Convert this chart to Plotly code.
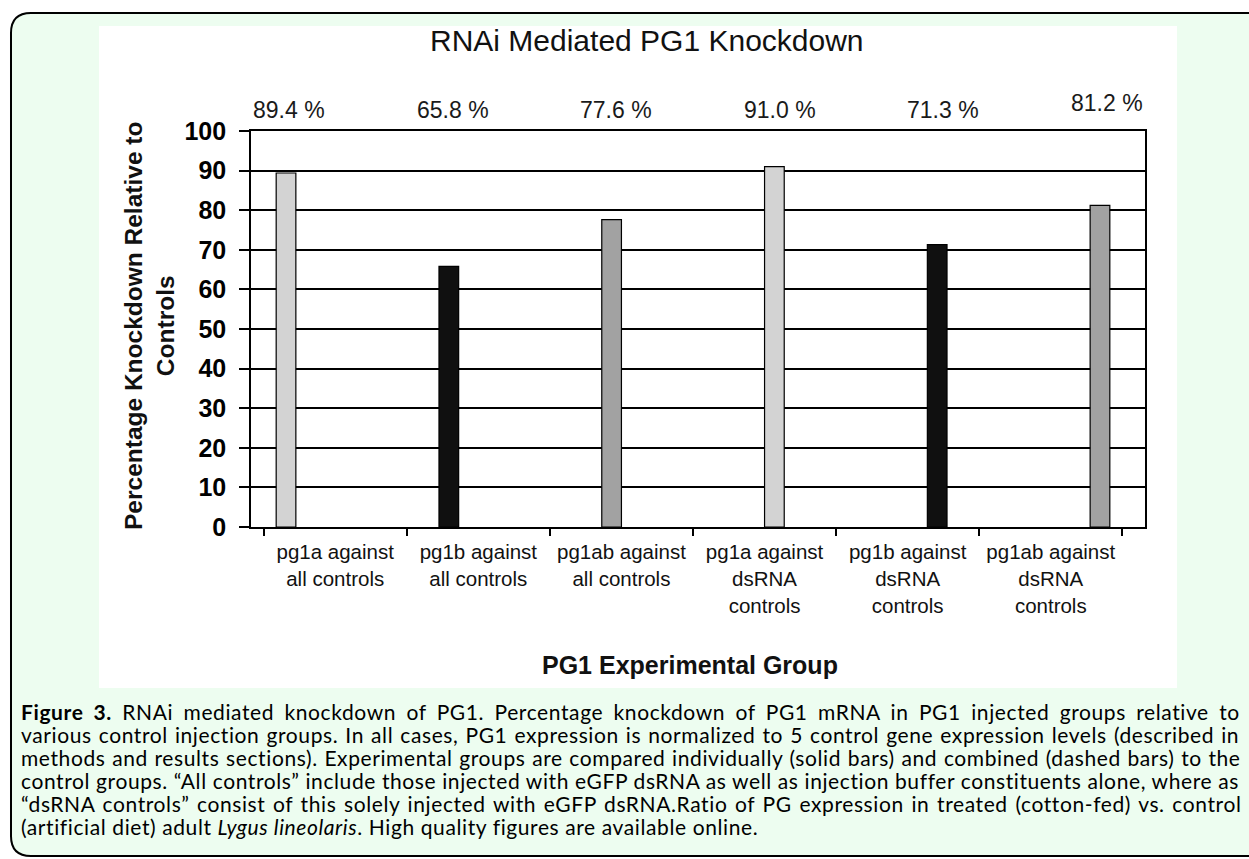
import plotly.graph_objects as go

# ---------------- data ----------------
categories = [
    "pg1a against<br>all controls",
    "pg1b against<br>all controls",
    "pg1ab against<br>all controls",
    "pg1a against<br>dsRNA<br>controls",
    "pg1b against<br>dsRNA<br>controls",
    "pg1ab against<br>dsRNA<br>controls",
]
values = [89.4, 65.8, 77.6, 91.0, 71.3, 81.2]
value_labels = ["89.4 %", "65.8 %", "77.6 %", "91.0 %", "71.3 %", "81.2 %"]
bar_colors = ["#d3d3d3", "#101010", "#a2a2a2", "#d3d3d3", "#101010", "#a2a2a2"]
y_tickvals = [0, 10, 20, 30, 40, 50, 60, 70, 80, 90, 100]

title_text = "RNAi Mediated PG1 Knockdown"
x_title = "PG1 Experimental Group"
y_title = "Percentage Knockdown Relative to<br>Controls"

caption_lines = [
    "<b>Figure 3.</b> RNAi mediated knockdown of PG1. Percentage knockdown of PG1 mRNA in PG1 injected groups relative to",
    "various control injection groups. In all cases, PG1 expression is normalized to 5 control gene expression levels (described in",
    "methods and results sections). Experimental groups are compared individually (solid bars) and combined (dashed bars) to the",
    "control groups. \u201cAll controls\u201d include those injected with eGFP dsRNA as well as injection buffer constituents alone, where as",
    "\u201cdsRNA controls\u201d consist of this solely injected with eGFP dsRNA.Ratio of PG expression in treated (cotton-fed) vs. control",
    "(artificial diet) adult <i>Lygus lineolaris</i>. High quality figures are available online.",
]

# ---------------- layout geometry ----------------
W, H = 1249, 859
L, R, T, B = 251, 104, 131, 332
PW, PH = W - L - R, H - T - B
BARGAP = 0.175
CAPTION_FONT = 21
CAPTION_LETTER_SPACING = 0.6
CAPTION_WORD_SPACING = [4.4, 1.1, 0.7, 0.0, 1.7, 0.0]


def px_x(x):
    return (x - L) / PW


def px_y(y):
    return (H - B - y) / PH


fig = go.Figure()

n = len(categories)
for i in range(n):
    yv = [values[j] if j == i else None for j in range(n)]
    fig.add_trace(go.Bar(
        x=categories, y=yv,
        marker=dict(color=bar_colors[i], line=dict(color="#000000", width=1.2)),
        showlegend=False, hoverinfo="skip",
    ))

# rounded green frame
x0, x1, y0, y1, r = 11, 1268, 13, 856, 20
pts = [
    ("M", x0 + r, y0), ("L", x1 - r, y0), ("Q", x1, y0, x1, y0 + r),
    ("L", x1, y1 - r), ("Q", x1, y1, x1 - r, y1), ("L", x0 + r, y1),
    ("Q", x0, y1, x0, y1 - r), ("L", x0, y0 + r), ("Q", x0, y0, x0 + r, y0),
]
path = ""
for p in pts:
    cmd = p[0]
    coords = p[1:]
    segs = []
    for k in range(0, len(coords), 2):
        segs.append(f"{px_x(coords[k]):.5f},{px_y(coords[k+1]):.5f}")
    path += cmd + " " + " ".join(segs) + " "
path += "Z"

shapes = [
    dict(type="path", xref="paper", yref="paper", path=path,
         fillcolor="#edfdf0", line=dict(color="#000000", width=2), layer="below"),
    dict(type="rect", xref="paper", yref="paper",
         x0=px_x(99), x1=px_x(1177), y0=px_y(26), y1=px_y(688),
         fillcolor="#ffffff", line=dict(width=0), layer="below"),
]

annotations = []
slot_px = PW / n * (1 - BARGAP) / n
label_y_px = [110, 110, 110, 110, 110, 103]
for i in range(n):
    annotations.append(dict(
        x=categories[i], xref="x", y=px_y(label_y_px[i]), yref="paper",
        xshift=(i - (n - 1) / 2) * slot_px + 5,
        text=value_labels[i], showarrow=False, xanchor="center", yanchor="middle",
        font=dict(family="Liberation Sans, Arial", size=23, color="#1a1a1a"),
    ))

annotations.append(dict(
    x=px_x(647), y=px_y(41), xref="paper", yref="paper", text=title_text,
    showarrow=False, xanchor="center", yanchor="middle",
    font=dict(family="Liberation Sans, Arial", size=30, color="#111111"),
))
annotations.append(dict(
    x=px_x(690), y=px_y(665), xref="paper", yref="paper", text=x_title,
    showarrow=False, xanchor="center", yanchor="middle",
    font=dict(family="Liberation Sans, Arial", size=25, color="#111111", weight="bold"),
))
annotations.append(dict(
    x=px_x(149), y=px_y(326), xref="paper", yref="paper", text=y_title,
    showarrow=False, xanchor="center", yanchor="middle", textangle=-90,
    font=dict(family="Liberation Sans, Arial", size=24.5, color="#111111", weight="bold"),
))

cap_y0, cap_dy = 711, 23
for k, line in enumerate(caption_lines):
    ws = CAPTION_WORD_SPACING[k]
    style = f"letter-spacing:{CAPTION_LETTER_SPACING}px;word-spacing:{ws}px"
    txt = f'<span style="{style}">{line}</span>'
    annotations.append(dict(
        x=px_x(19), y=px_y(cap_y0 + k * cap_dy), xref="paper", yref="paper",
        text=txt, showarrow=False, xanchor="left", yanchor="middle", align="left",
        font=dict(family="Lato, Noto Sans", size=CAPTION_FONT, color="#000000"),
    ))

fig.update_layout(
    width=W, height=H,
    margin=dict(l=L, r=R, t=T, b=B, pad=0),
    paper_bgcolor="#ffffff", plot_bgcolor="rgba(0,0,0,0)",
    barmode="group", bargap=BARGAP, bargroupgap=0,
    shapes=shapes, annotations=annotations,
    showlegend=False,
)
fig.update_yaxes(
    range=[0, 100], tickvals=y_tickvals, showgrid=True, gridcolor="#000000", gridwidth=1.6,
    showline=True, linecolor="#000000", linewidth=1.6, mirror=True,
    ticks="outside", ticklen=10, tickwidth=1.5, tickcolor="#000000",
    tickfont=dict(family="Liberation Sans, Arial", size=25, color="#000000", weight="bold"),
    ticklabelstandoff=8, zeroline=False, fixedrange=True,
)
fig.update_xaxes(
    showgrid=False, showline=True, linecolor="#000000", linewidth=1.6, mirror=True,
    ticks="outside", tickson="boundaries", ticklen=7, tickwidth=1.5, tickcolor="#000000",
    tickfont=dict(family="Liberation Sans, Arial", size=20.5, color="#111111"),
    ticklabelstandoff=6, tickangle=0, fixedrange=True,
)

fig.write_html("out.html", config={"displayModeBar": False},
               post_script="document.body.style.margin='0';")
